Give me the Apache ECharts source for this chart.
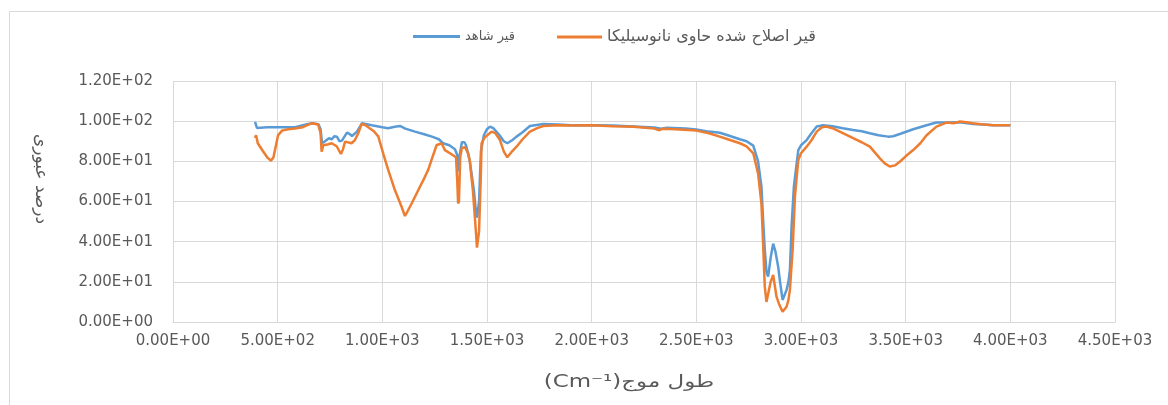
<!DOCTYPE html>
<html>
<head>
<meta charset="utf-8">
<script src="https://cdn.jsdelivr.net/npm/echarts@6/dist/echarts.min.js"></script>
<style>
  html, body { margin: 0; padding: 0; background: #fff; }
  #chart { width: 1168px; height: 405px; }
</style>
</head>
<body>
<div id="chart"></div>
<script>
// wave number (cm-1) and transmittance (%)
const blankName = 'قير شاهد';
const blankX = [392, 401, 450, 500, 583, 640, 664, 695, 705, 712, 726, 745, 759, 770, 783, 795, 807, 831, 845, 855, 879, 903,
  950, 1000, 1027, 1060, 1084, 1110, 1156, 1200, 1237, 1270, 1290, 1320, 1347, 1358, 1363, 1368, 1380, 1392, 1400, 1418,
  1438, 1447, 1452, 1462, 1471, 1485, 1500, 1514, 1530, 1560, 1580, 1597, 1620, 1641, 1670, 1705, 1769, 1839, 1900, 2000,
  2100, 2200, 2300, 2330, 2360, 2450, 2500, 2560, 2612, 2650, 2708, 2740, 2772, 2795, 2811, 2819, 2827, 2835, 2843, 2855,
  2867, 2878, 2891, 2900, 2912, 2920, 2931, 2940, 2947, 2955, 2966, 2987, 3000, 3027, 3050, 3075, 3106, 3150, 3200, 3249,
  3290, 3329, 3370, 3416, 3440, 3472, 3536, 3600, 3647, 3695, 3759, 3822, 3870, 3918, 3960, 4000];
const blankY = [99.6, 96.6, 97, 97, 97, 98.5, 99, 98.5, 96, 89, 90, 91.5, 91, 92.5, 92.3, 90, 90.3, 94.3, 93.5, 92.6, 94.8, 99,
  98, 97, 96.5, 97.2, 97.6, 96.3, 94.8, 93.5, 92.3, 91, 89, 88, 86, 83, 75, 82, 89.5, 89.5, 88, 80,
  65, 55, 52, 60, 85, 93, 96, 97.3, 96.5, 93, 90, 89, 90.5, 92.3, 94.5, 97.6, 98.6, 98.3, 98, 98,
  97.8, 97.4, 96.8, 96.2, 96.7, 96.3, 95.8, 94.8, 94.2, 93, 91, 90, 87.8, 80, 67.4, 50.8, 35.9, 25, 22.6, 32,
  39, 35, 27.5, 20, 11, 13, 16, 20, 26, 47.5, 67.4, 85.6, 88, 90.6, 94, 97.3, 98, 97.5, 96.5, 95.6,
  95, 94, 93, 92.3, 92.5, 93.6, 96, 98, 99.3, 99.3, 99.5, 98.6, 98.3, 98, 98, 98];

const nanoName = 'قير اصلاح شده حاوی نانوسيليكا';
const nanoX = [392, 397, 405, 430, 450, 468, 480, 502, 521, 550, 583, 620, 664, 694, 705, 710, 718, 726, 742, 758, 782, 802,
  812, 822, 853, 869, 885, 901, 920, 941, 960, 981, 1004, 1028, 1060, 1092, 1108, 1120, 1140, 1172, 1204, 1220, 1235,
  1259, 1283, 1299, 1323, 1352, 1358, 1362, 1366, 1372, 1380, 1395, 1410, 1418, 1433, 1447, 1452, 1462, 1471, 1474, 1490,
  1522, 1540, 1562, 1580, 1597, 1620, 1641, 1670, 1705, 1740, 1769, 1839, 1900, 2000, 2100, 2200, 2300, 2320, 2340, 2400,
  2500, 2560, 2612, 2650, 2708, 2740, 2772, 2795, 2811, 2819, 2827, 2835, 2843, 2855, 2867, 2875, 2883, 2895, 2912, 2920,
  2931, 2940, 2947, 2960, 2971, 2987, 3000, 3027, 3050, 3075, 3100, 3122, 3150, 3200, 3249, 3290, 3329, 3377, 3400, 3424,
  3450, 3472, 3500, 3536, 3570, 3600, 3647, 3695, 3730, 3759, 3790, 3822, 3860, 3918, 3960, 4000];
const nanoY = [91.6, 93, 89, 85, 82, 80.3, 82, 93, 95.3, 96, 96.4, 97, 99, 98.3, 94, 84.8, 88, 88, 88.5, 89, 87.5, 83.7,
  86, 89.8, 89, 90.6, 94, 98.6, 98, 96.4, 95, 92.3, 84, 75.7, 65.7, 57.4, 52.8, 55, 59, 65.7, 72.4, 76, 80.7,
  88, 89, 85.6, 84, 82, 70, 59, 60, 82, 86.6, 87, 84, 80, 65, 45, 37, 45, 75, 89, 92,
  94.8, 94, 90.6, 85, 82, 85, 87.3, 91, 94.8, 96.5, 97.6, 98, 97.8, 98, 97.5, 97.2, 96.3, 95.5, 96.2, 96,
  95.3, 94, 92.3, 91, 89, 87.5, 84, 74, 59, 39, 17.6, 10, 14, 20, 23.4, 18, 12.6, 9, 5.1, 6,
  7.6, 11, 16, 36, 62.4, 80.7, 84, 87.3, 90.5, 94.8, 97, 97.3, 96.5, 94, 91.5, 89.5, 87.3, 81.5, 79, 77.4,
  78, 79.8, 82.5, 85.6, 89, 93, 97.3, 99.3, 99, 99.8, 99.5, 99, 98.5, 98, 98, 98];

const yTitle = 'درصد عبوری';
const xTitleArabic = 'طول موج';
const xTitleUnit = '(Cm⁻¹)';

const pairs = (xs, ys) => xs.map((x, i) => [x, ys[i]]);

// Excel style scientific labels: 5.00E+02
const sci = (v) => {
  if (v === 0) return '0.00E+00';
  const exp = Math.floor(Math.log10(Math.abs(v)));
  const mant = (v / Math.pow(10, exp)).toFixed(2);
  return mant + 'E' + (exp < 0 ? '-' : '+') + String(Math.abs(exp)).padStart(2, '0');
};

const labelFont = 'DejaVu Sans';
const textColor = '#595959';
const gridColor = '#d9d9d9';
const blueColor = '#5B9BD5';
const orangeColor = '#ED7D31';

const myChart = echarts.init(document.getElementById('chart'), null, { renderer: 'canvas' });

const option = {
  backgroundColor: '#fff',
  animation: false,
  // two legend boxes so each item can keep its own spacing
  legend: [
    {
      left: 408,
      top: 25,
      itemWidth: 47,
      itemHeight: 3,
      icon: 'rect',
      data: [blankName],
      textStyle: { fontFamily: labelFont, fontSize: 13, color: textColor }
    },
    {
      left: 552,
      top: 24,
      itemWidth: 45,
      itemHeight: 3,
      icon: 'rect',
      data: [nanoName],
      textStyle: { fontFamily: labelFont, fontSize: 16, color: textColor }
    }
  ],
  grid: { left: 173, right: 53, top: 81, bottom: 83, containLabel: false },
  xAxis: {
    type: 'value',
    min: 0,
    max: 4500,
    interval: 500,
    axisLine: { show: true, lineStyle: { color: gridColor, width: 1 } },
    axisTick: { show: false },
    splitLine: { show: true, lineStyle: { color: gridColor, width: 1 } },
    axisLabel: { formatter: sci, margin: 12, fontFamily: labelFont, fontSize: 15, color: textColor }
  },
  yAxis: {
    type: 'value',
    min: 0,
    max: 120,
    interval: 20,
    axisLine: { show: false },
    axisTick: { show: false },
    splitLine: { show: true, lineStyle: { color: gridColor, width: 1 } },
    axisLabel: { formatter: sci, margin: 20, fontFamily: labelFont, fontSize: 15, color: textColor }
  },
  graphic: [
    {
      type: 'rect',
      silent: true,
      shape: { x: 9.5, y: 11.5, width: 1400, height: 600 },
      style: { fill: 'none', stroke: gridColor, lineWidth: 1 }
    },
    {
      type: 'text',
      x: 40,
      y: 179,
      rotation: -Math.PI / 2,
      style: {
        text: yTitle,
        font: '17px "DejaVu Sans"',
        fill: textColor,
        align: 'center',
        verticalAlign: 'middle'
      }
    },
    {
      type: 'text',
      x: 629,
      y: 383,
      scaleX: 1.35,
      style: {
        text: '{u|' + xTitleUnit + '}{a|' + xTitleArabic + '}',
        align: 'center',
        verticalAlign: 'middle',
        rich: {
          u: { fontFamily: labelFont, fontSize: 17, fill: textColor },
          a: { fontFamily: labelFont, fontSize: 17, fill: textColor }
        }
      }
    }
  ],
  series: [
    {
      name: blankName,
      type: 'line',
      showSymbol: false,
      symbol: 'none',
      color: blueColor,
      lineStyle: { color: blueColor, width: 2.5 },
      data: pairs(blankX, blankY)
    },
    {
      name: nanoName,
      type: 'line',
      showSymbol: false,
      symbol: 'none',
      color: orangeColor,
      lineStyle: { color: orangeColor, width: 2.5 },
      data: pairs(nanoX, nanoY)
    }
  ]
};

myChart.setOption(option);
</script>
</body>
</html>
